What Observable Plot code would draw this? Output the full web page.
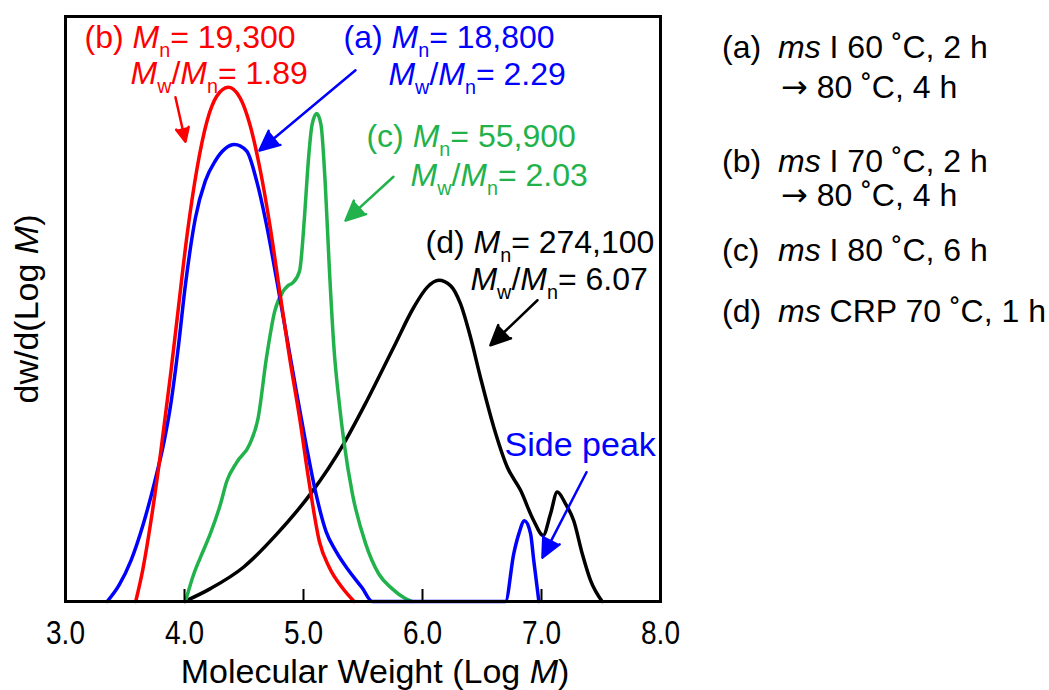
<!DOCTYPE html>
<html>
<head>
<meta charset="utf-8">
<script src="https://cdn.jsdelivr.net/npm/d3@7"></script>
<script src="https://cdn.jsdelivr.net/npm/@observablehq/plot@0.6"></script>
<style>
  body { margin: 0; background: #fff; }
  #wrap { position: relative; width: 1049px; height: 690px; font-family: "Liberation Sans", Arial, Helvetica, sans-serif; }
  #chart { position: absolute; left: 0; top: 0; }
  .leg { position: absolute; white-space: pre; color: #000; }
  .arr { font-family: "DejaVu Sans", sans-serif; }
</style>
</head>
<body>
<div id="wrap"><div id="chart"></div></div>
<script>
// GPC traces: dw/d(Log M) against Log M for the four polymerisations
const logM_a = [3.35, 3.45, 3.55, 3.65, 3.75, 3.83, 3.883, 3.944, 4.008, 4.092, 4.175, 4.258, 4.342, 4.419, 4.522, 4.606, 4.689, 4.772, 4.856, 4.939, 5.022, 5.106, 5.189, 5.272, 5.383, 5.494, 5.578, 6.2, 6.697, 6.767, 6.81, 6.857, 6.908, 6.935, 6.978];
const dw_a   = [0, 2.8, 7, 13, 20.5, 27.5, 33.5, 42.8, 54.2, 65.6, 71.9, 75.3, 77.4, 78.1, 77.0, 71.9, 64.4, 55.3, 45.6, 36.0, 26.8, 18.3, 12.0, 8.6, 5.2, 2.3, 0, 0, 0, 8.2, 11.6, 13.8, 11.6, 7.0, 0];

const logM_b = [3.59, 3.65, 3.72, 3.80, 3.883, 3.939, 4.022, 4.106, 4.189, 4.272, 4.369, 4.467, 4.55, 4.633, 4.717, 4.8, 4.883, 4.967, 5.05, 5.133, 5.217, 5.328, 5.425];
const dw_b   = [0, 5.5, 14, 25.5, 38.8, 48.5, 62.7, 74.1, 82.1, 86.4, 87.9, 86.1, 81.5, 74.1, 64.4, 53.0, 41.7, 31.4, 20.0, 10.3, 5.8, 2.3, 0];

const logM_c = [4.008, 4.078, 4.133, 4.217, 4.30, 4.356, 4.439, 4.55, 4.619, 4.689, 4.758, 4.828, 4.87, 4.911, 4.967, 5.008, 5.036, 5.072, 5.111, 5.147, 5.183, 5.217, 5.258, 5.30, 5.342, 5.411, 5.522, 5.633, 5.744, 5.856, 5.91];
const dw_c   = [0, 4.7, 7.5, 11.6, 16.5, 20.6, 23.8, 27, 31.4, 41.7, 49.6, 53.0, 54.0, 54.5, 56.5, 65.6, 74.1, 81.5, 83.4, 81.5, 71.3, 57.0, 42.8, 34, 27, 18.4, 9.9, 4.7, 2.2, 0.5, 0];

const logM_d = [4.0, 4.218, 4.498, 4.779, 5.059, 5.339, 5.535, 5.759, 5.927, 6.039, 6.137, 6.235, 6.319, 6.403, 6.487, 6.599, 6.712, 6.824, 6.935, 7.014, 7.076, 7.132, 7.202, 7.271, 7.342, 7.412, 7.51];
const dw_d   = [0, 2.2, 5.9, 11.6, 18.4, 27.0, 34.4, 43.5, 50.3, 53.7, 54.9, 54.0, 50.9, 45.2, 38.3, 29.8, 23.0, 19.0, 13.8, 11.3, 15.0, 18.7, 16.7, 13.8, 8.2, 3.6, 0];

const xTicks = [3, 4, 5, 6, 7, 8];
const xLabel = "Molecular Weight (Log *M*)";
const yLabel = "dw/d(Log *M*)";

// Annotation texts (*…* italic, _x subscript)
const noteText = [
  "(b) *M*_n= 19,300", "*M*_w/*M*_n= 1.89",
  "(a) *M*_n= 18,800", "*M*_w/*M*_n= 2.29",
  "(c) *M*_n= 55,900", "*M*_w/*M*_n= 2.03",
  "(d) *M*_n= 274,100", "*M*_w/*M*_n= 6.07"
];
const sideText = "Side peak";

// Legend entries
const legendKey  = ["(a)", "(b)", "(c)", "(d)"];
const legendMain = ["I 60 ˚C, 2 h", "I 70 ˚C, 2 h", "I 80 ˚C, 6 h", "CRP 70 ˚C, 1 h"];
const legendNext = ["80 ˚C, 4 h", "80 ˚C, 4 h", null, null];

// ---- styling / layout ----
const colA = "#0000ff", colB = "#ff0000", colC = "#22b24c", colD = "#000000";
const font = '"Liberation Sans", Arial, Helvetica, sans-serif';

const series = (xs, ys) => xs.map((x, i) => ({x, y: ys[i]}));

const noteLayout = [
  {x: 3.160, y: 96.3, c: colB}, {x: 3.546, y: 90.2, c: colB},
  {x: 5.336, y: 96.3, c: colA}, {x: 5.714, y: 90.0, c: colA},
  {x: 5.529, y: 79.4, c: colC}, {x: 5.899, y: 72.7, c: colC},
  {x: 6.025, y: 61.3, c: colD}, {x: 6.403, y: 55.0, c: colD}
];
const notes = noteText.map((t, i) => ({text: t, ...noteLayout[i]}));
const side = [{text: sideText, x: 6.690, y: 26.8, c: colA}];

const arrows = [
  {x1: 3.924, y1: 86.2, x2: 4.008, y2: 78.6, c: colB},
  {x1: 5.437, y1: 90.8, x2: 4.630, y2: 77.1, c: colA},
  {x1: 5.756, y1: 72.6, x2: 5.353, y2: 65.1, c: colC},
  {x1: 6.966, y1: 51.5, x2: 6.571, y2: 43.8, c: colD},
  {x1: 7.378, y1: 22.1, x2: 7.008, y2: 7.5, c: colA}
];

const lineOpts = {x: "x", y: "y", curve: "monotone-x", strokeWidth: 3.5, strokeLinejoin: "round"};

const svg = Plot.plot({
  width: 700,
  height: 690,
  marginLeft: 65,
  marginRight: 40,
  marginTop: 16,
  marginBottom: 89,
  style: {fontFamily: font, fontSize: "28px", color: "#000", background: "transparent", overflow: "visible"},
  x: {domain: [3, 8]},
  y: {domain: [0, 100]},
  color: {type: "identity"},
  marks: [
    Plot.line(series(logM_d, dw_d), {...lineOpts, stroke: colD}),
    Plot.line(series(logM_c, dw_c), {...lineOpts, stroke: colC}),
    Plot.line(series(logM_a, dw_a), {...lineOpts, stroke: colA}),
    Plot.line(series(logM_b, dw_b), {...lineOpts, stroke: colB}),
    Plot.axisX({ticks: xTicks, tickSize: -12, tickFormat: () => "", label: null, strokeWidth: 2}),
    Plot.axisX({ticks: xTicks, tickSize: 0, tickPadding: 19, tickFormat: d3.format(".1f"), label: null}),
    Plot.axisY({ticks: [], label: null}),
    Plot.frame({stroke: "#000", strokeWidth: 3}),
    Plot.arrow(arrows, {x1: "x1", y1: "y1", x2: "x2", y2: "y2", stroke: "c", strokeWidth: 2.5, headLength: 13, headAngle: 50}),
    Plot.text(notes, {x: "x", y: "y", text: "text", fill: "c", textAnchor: "start", lineAnchor: "middle", fontSize: 32}),
    Plot.text(side, {x: "x", y: "y", text: "text", fill: "c", textAnchor: "start", lineAnchor: "middle", fontSize: 34}),
    Plot.text([xLabel], {text: d => d, frameAnchor: "bottom", textAnchor: "middle", lineAnchor: "middle", dy: 71, dx: 12, fontSize: 34}),
    Plot.text([yLabel], {text: d => d, frameAnchor: "left", textAnchor: "middle", lineAnchor: "middle", rotate: -90, dx: -38, fontSize: 34})
  ]
});

document.getElementById("chart").appendChild(svg);

// Turn *M* into italics and _n / _w into subscripts
const NS = "http://www.w3.org/2000/svg";
svg.querySelectorAll("text").forEach(node => {
  const src = node.textContent;
  if (!/[*_]/.test(src)) return;
  const fs = parseFloat(getComputedStyle(node).fontSize);
  node.textContent = "";
  const re = /\*([^*]+)\*|_(\w)|([^*_]+)/g;
  let m, shift = 0;
  while ((m = re.exec(src))) {
    const t = document.createElementNS(NS, "tspan");
    let target = 0;
    if (m[1]) { t.textContent = m[1]; t.setAttribute("font-style", "italic"); }
    else if (m[2]) { t.textContent = m[2]; t.setAttribute("font-size", (fs * 0.62).toFixed(1)); target = fs * 0.28; }
    else t.textContent = m[3];
    if (target !== shift) { t.setAttribute("dy", (target - shift).toFixed(2)); shift = target; }
    node.appendChild(t);
  }
});

// Taller tick numerals
svg.querySelectorAll('g[aria-label="x-axis tick label"] text').forEach(t => {
  const tr = t.getAttribute("transform") || "";
  t.setAttribute("transform", tr + " scale(1,1.2)");
});

// Solid arrow heads
svg.querySelectorAll('g[aria-label="arrow"] path').forEach(p => {
  const s = p.getAttribute("stroke") || getComputedStyle(p).stroke;
  p.setAttribute("fill", s);
});

// Legend of reaction conditions
const root = document.getElementById("wrap");
const legFs = 32;
const rowBase = [58, 172, 261, 322];
const nextBase = [98, 206];
const put = (html, left, baseline) => {
  const d = document.createElement("div");
  d.className = "leg";
  d.style.fontSize = legFs + "px";
  d.style.lineHeight = legFs + "px";
  d.innerHTML = html;
  d.style.left = left + "px";
  d.style.top = (baseline - 0.8465 * legFs) + "px";
  root.appendChild(d);
};
legendKey.forEach((k, i) => {
  put(k, 722, rowBase[i]);
  put("<i>ms</i> " + legendMain[i], 778, rowBase[i]);
  if (legendNext[i]) put('<span class="arr">→</span> ' + legendNext[i], 781, nextBase[i]);
});
</script>
</body>
</html>
